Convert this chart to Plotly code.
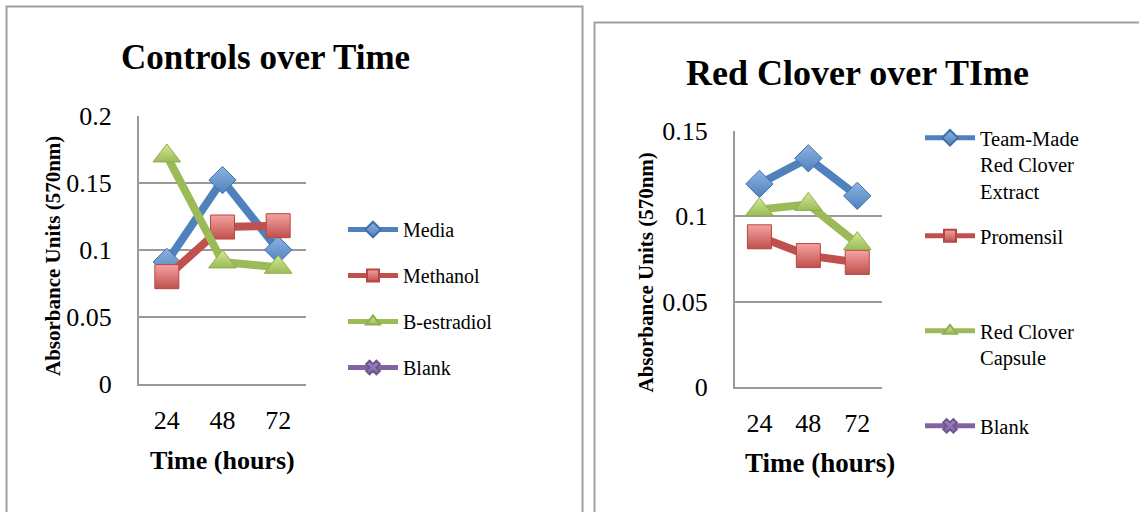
import plotly.graph_objects as go

W, H = 1139, 512

# ---- data -------------------------------------------------------------
hours = ["24", "48", "72"]

controls_names = ["Media", "Methanol", "B-estradiol", "Blank"]
media = [0.091, 0.152, 0.100]
methanol = [0.080, 0.117, 0.118]
b_estradiol = [0.170, 0.091, 0.087]
blank_controls = [None, None, None]

clover_names = ["Team-Made<br>Red Clover<br>Extract", "Promensil",
                "Red Clover<br>Capsule", "Blank"]
team_made = [0.119, 0.134, 0.112]
promensil = [0.088, 0.077, 0.073]
capsule = [0.104, 0.107, 0.084]
blank_clover = [None, None, None]

left_ticks = [0, 0.05, 0.1, 0.15, 0.2]
right_ticks = [0, 0.05, 0.1, 0.15]

# ---- styling ----------------------------------------------------------
FONT = "Liberation Serif"
GRID = "#9a9a9a"

styles = [
    dict(line="#4F81BD", fill="#8DB3E2", edge="#3F6FAA", symbol="diamond", size=21),
    dict(line="#C0504D", fill="#F4A3A1", edge="#B54643", symbol="square", size=24),
    dict(line="#9BBB59", fill="#D2EA94", edge="#8FAE4F", symbol="triangle-up", size=24),
    dict(line="#8064A2", fill="#A08BC0", edge="#6E5490", symbol="x", size=10),
]


def px(x):
    return x / W


def py(y):
    return 1 - y / H


fig = go.Figure()


def add_series(names, series, xa, ya, legend_ids):
    for name, vals, st, lg in zip(names, series, styles, legend_ids):
        fig.add_trace(go.Scatter(
            x=hours, y=vals, name=name, mode="lines+markers",
            xaxis=xa, yaxis=ya, legend=lg, cliponaxis=False,
            line=dict(color=st["line"], width=8),
            marker=dict(symbol=st["symbol"], size=st["size"], color=st["fill"],
                        gradient=dict(type="vertical", color=st["line"]),
                        line=dict(color=st["edge"], width=1)),
        ))


add_series(controls_names, [media, methanol, b_estradiol, blank_controls],
           "x", "y", ["legend", "legend2", "legend3", "legend4"])
add_series(clover_names, [team_made, promensil, capsule, blank_clover],
           "x2", "y2", ["legend5", "legend6", "legend7", "legend8"])

axis_common = dict(showline=True, linecolor=GRID, linewidth=2, ticks="",
                   tickfont=dict(family=FONT, size=26, color="black"),
                   fixedrange=True)

fig.update_layout(
    width=W, height=H,
    margin=dict(l=0, r=0, t=0, b=0, autoexpand=False),
    paper_bgcolor="white", plot_bgcolor="white", showlegend=True,
    font=dict(family=FONT, color="black"),
    xaxis=dict(domain=[px(139), px(306)], anchor="y", type="category",
               range=[-0.5, 2.5], showgrid=False, ticklabelstandoff=12,
               **axis_common),
    yaxis=dict(domain=[py(384), py(115.7)], anchor="x", range=[0, 0.2],
               tickvals=left_ticks, showgrid=True, gridcolor=GRID, gridwidth=2,
               zeroline=False, ticklabelstandoff=20, **axis_common),
    xaxis2=dict(domain=[px(735), px(881.7)], anchor="y2", type="category",
                range=[-0.5, 2.5], showgrid=False, ticklabelstandoff=12,
                **axis_common),
    yaxis2=dict(domain=[py(387), py(131)], anchor="x2", range=[0, 0.15],
                tickvals=right_ticks, showgrid=True, gridcolor=GRID, gridwidth=2,
                zeroline=False, ticklabelstandoff=20, **axis_common),
)

# one legend box per entry so each can sit where it belongs
legend_pos = {
    "legend": (348, 230), "legend2": (348, 276), "legend3": (348, 322),
    "legend4": (348, 368),
    "legend5": (925, 138), "legend6": (925, 236), "legend7": (925, 331),
    "legend8": (925, 426),
}
for key, (lx, ly) in legend_pos.items():
    size = 20 if key in ("legend", "legend2", "legend3", "legend4") else 20.5
    fig.update_layout({key: dict(
        x=px(lx) - 5 / W, y=py(ly - 20), xanchor="left", yanchor="top",
        itemwidth=50, itemsizing="constant", valign="top",
        bgcolor="rgba(0,0,0,0)", borderwidth=0,
        font=dict(family=FONT, size=size, color="black"),
        tracegroupgap=0,
    )})

# chart area frames
fig.add_shape(type="rect", xref="paper", yref="paper",
              x0=px(6.5), x1=px(582.5), y0=py(530), y1=py(6.5),
              line=dict(color="#a0a0a0", width=2), layer="below")
fig.add_shape(type="rect", xref="paper", yref="paper",
              x0=px(594.5), x1=px(1160), y0=py(530), y1=py(22.5),
              line=dict(color="#a0a0a0", width=2), layer="below")

# titles and axis titles
texts = [
    ("<b>Controls over Time</b>", 265.5, 57, 35, 0),
    ("<b>Red Clover over TIme</b>", 857.5, 73, 36, 0),
    ("<b>Time (hours)</b>", 222.5, 460, 26, 0),
    ("<b>Time (hours)</b>", 819.5, 463, 27, 0),
    ("<b>Absorbance Units (570nm)</b>", 53, 256, 21, -90),
    ("<b>Absorbance Units (570nm)</b>", 645, 272.5, 21, -90),
]
for txt, tx, ty, fs, ang in texts:
    fig.add_annotation(text=txt, xref="paper", yref="paper", x=px(tx), y=py(ty),
                       xanchor="center", yanchor="middle", showarrow=False,
                       textangle=ang, font=dict(family=FONT, size=fs, color="black"))

fig.write_html("out.html")
